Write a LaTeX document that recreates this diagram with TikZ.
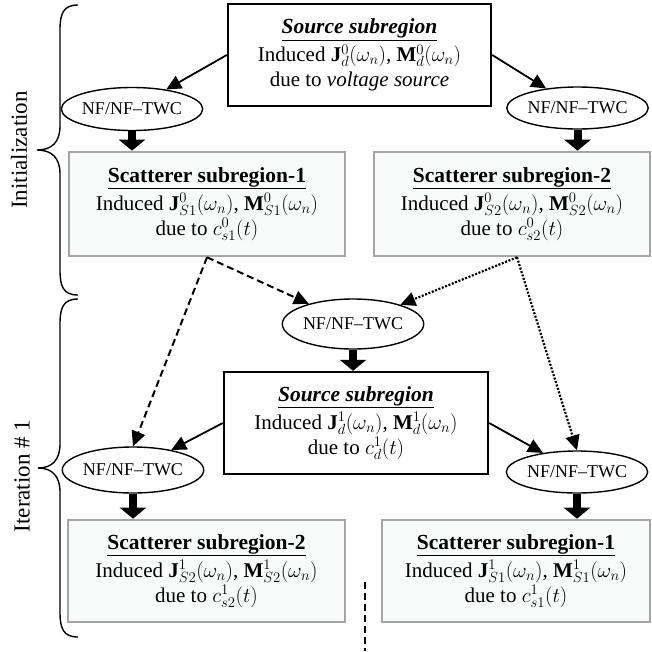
\RequirePackage{fix-cm}
\documentclass[tikz,border=0pt]{standalone}
\usepackage{fontspec}
\setmainfont{Liberation Serif}
\usetikzlibrary{arrows.meta,shapes.geometric}
\definecolor{boxfill}{RGB}{249,250,250}
\definecolor{boxedge}{RGB}{165,165,165}
\newcommand{\ttl}{\fontsize{21.5}{26}\selectfont}
\begin{document}
\begin{tikzpicture}[x=1pt,y=-1pt,
  txt/.style={align=center,font=\fontsize{21}{25}\selectfont,inner sep=0pt},
  srcbox/.style={txt,draw=black,line width=2.4pt,fill=white},
  scatbox/.style={txt,draw=boxedge,line width=2.6pt,fill=boxfill},
  nf/.style={ellipse,draw=black,line width=1.4pt,fill=white,inner sep=0pt,font=\fontsize{18}{20}\selectfont},
  arr/.style={line width=1.8pt,-{Triangle[width=14pt,length=15pt]}},
  blockarr/.style={line width=8pt,-{Triangle[width=26pt,length=11pt]}},
  dasharr/.style={line width=2pt,dash pattern=on 7pt off 4pt,-{Triangle[width=14pt,length=15pt]}},
  dotarr/.style={line width=2.2pt,dash pattern=on 2pt off 1.6pt,-{Triangle[width=14pt,length=15pt]}},
  brace/.style={line width=1.4pt},
  side/.style={font=\fontsize{23}{26}\selectfont,rotate=90,inner sep=0pt}
]
\useasboundingbox (0,0) rectangle (652,651);

% Initialization
\node[srcbox,minimum width=263pt,minimum height=102pt] (src0) at (359.5,55)
  {\ttl\underline{\textbf{\textit{Source subregion}}}\\[3pt]
   Induced $\mathbf{J}_d^0(\omega_n)$, $\mathbf{M}_d^0(\omega_n)$\\
   due to \textit{voltage source}};
\node[nf,minimum width=118pt,minimum height=43pt] (eA) at (132,109) {NF/NF--TWC};
\node[nf,minimum width=117pt,minimum height=42pt] (eB) at (577.5,108) {NF/NF--TWC};
\node[scatbox,minimum width=276pt,minimum height=104pt] (s1a) at (207,204)
  {\ttl\underline{\textbf{Scatterer subregion-1}}\\[3pt]
   Induced $\mathbf{J}_{S1}^0(\omega_n)$, $\mathbf{M}_{S1}^0(\omega_n)$\\
   due to $c_{s1}^0(t)$};
\node[scatbox,minimum width=276pt,minimum height=104pt] (s2a) at (512,204)
  {\ttl\underline{\textbf{Scatterer subregion-2}}\\[3pt]
   Induced $\mathbf{J}_{S2}^0(\omega_n)$, $\mathbf{M}_{S2}^0(\omega_n)$\\
   due to $c_{s2}^0(t)$};

% Iteration 1
\node[nf,minimum width=117pt,minimum height=50pt] (eM) at (353,324) {NF/NF--TWC};
\node[srcbox,minimum width=264pt,minimum height=102pt] (src1) at (356,423)
  {\ttl\underline{\textbf{\textit{Source subregion}}}\\[3pt]
   Induced $\mathbf{J}_d^1(\omega_n)$, $\mathbf{M}_d^1(\omega_n)$\\
   due to $c_d^1(t)$};
\node[nf,minimum width=124pt,minimum height=46pt] (eC) at (133,470) {NF/NF--TWC};
\node[nf,minimum width=116pt,minimum height=42pt] (eD) at (577,472) {NF/NF--TWC};
\node[scatbox,minimum width=277pt,minimum height=102pt] (s2b) at (206.5,571)
  {\ttl\underline{\textbf{Scatterer subregion-2}}\\[3pt]
   Induced $\mathbf{J}_{S2}^1(\omega_n)$, $\mathbf{M}_{S2}^1(\omega_n)$\\
   due to $c_{s2}^1(t)$};
\node[scatbox,minimum width=268pt,minimum height=102pt] (s1b) at (516,571)
  {\ttl\underline{\textbf{Scatterer subregion-1}}\\[3pt]
   Induced $\mathbf{J}_{S1}^1(\omega_n)$, $\mathbf{M}_{S1}^1(\omega_n)$\\
   due to $c_{s1}^1(t)$};

% connectors
\draw[arr] (src0.west) -- (eA);
\draw[arr] (src0.east) -- (eB);
\draw[blockarr] (eA.south) -- (eA.south |- s1a.north);
\draw[blockarr] (eB.south) -- (eB.south |- s2a.north);

\draw[dasharr] (s1a.south) -- (eM);
\draw[dasharr] (s1a.south) -- (eC.north);
\coordinate (s2out) at ([xshift=5pt]s2a.south);
\draw[dotarr] (s2out) -- (eM);
\draw[dotarr] (s2out) -- (eD.north);

\draw[blockarr] (eM.south) -- (eM.south |- src1.north);
\draw[arr] (src1.west) -- (eC);
\draw[arr] (src1.east) -- (eD);
\draw[blockarr] (eC.south) -- (eC.south |- s2b.north);
\draw[blockarr] (eD.south) -- (eD.south |- s1b.north);

\coordinate (vtop) at (365,582);
\coordinate (vbot) at (365,651);
\draw[line width=2pt,dash pattern=on 7pt off 4pt] (vtop) -- (vbot);

% braces
\draw[brace] (78,5) .. controls (63,5) and (60,14) .. (60,30) -- (60,126)
  .. controls (60,142) and (52,150) .. (37,150)
  .. controls (52,150) and (60,158) .. (60,174) -- (60,270)
  .. controls (60,286) and (63,295) .. (78,295);
\draw[brace] (78,299) .. controls (63,299) and (60,308) .. (60,324) -- (60,444)
  .. controls (60,460) and (52,468) .. (38,468)
  .. controls (52,468) and (60,476) .. (60,492) -- (60,612)
  .. controls (60,628) and (63,637) .. (78,637);

\node[side] (lab1) at (19,150) {Initialization};
\node[side] (lab2) at (22,476) {Iteration \# 1};
\end{tikzpicture}
\end{document}
